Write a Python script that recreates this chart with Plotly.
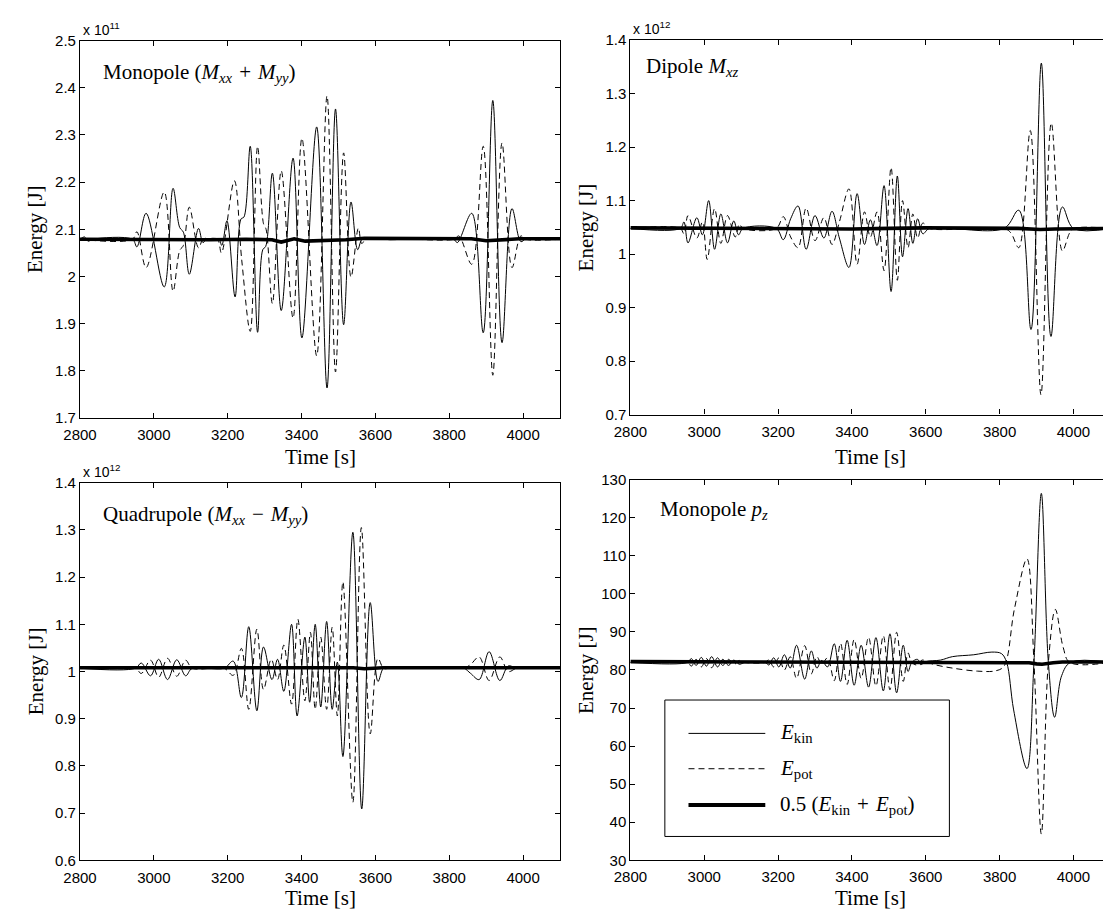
import plotly.graph_objects as go

# ---------------------------------------------------------------------------
# Energy time series (values read at extrema / crossings of each curve)
# ---------------------------------------------------------------------------
# Monopole (Mxx + Myy), energies in units of 1e11 J
mono_kin_t = [2800, 2812, 2822, 2834, 2942, 2954, 2979, 3028, 3052, 3070, 3080, 3096, 3121, 3133, 3143,
              3176, 3184, 3198, 3220, 3236, 3244, 3261, 3281, 3295, 3303, 3321, 3345, 3377, 3401, 3441,
              3469, 3492, 3514, 3534, 3552, 3565, 3600, 3640, 3700, 3750, 3812, 3822, 3861, 3892, 3918,
              3943, 3970, 3994, 4008, 4100]
mono_kin_v = [2.079, 2.084, 2.075, 2.079, 2.079, 2.063, 2.134, 1.978, 2.187, 2.104, 2.094, 2.005, 2.102, 2.072, 2.079,
              2.079, 2.066, 2.118, 1.957, 2.122, 2.126, 2.276, 1.882, 2.057, 2.064, 2.219, 1.928, 2.251, 1.870, 2.317,
              1.764, 2.355, 1.898, 2.158, 2.057, 2.080, 2.082, 2.078, 2.081, 2.079, 2.079, 2.072, 2.134, 1.881, 2.373,
              1.860, 2.144, 2.074, 2.080, 2.080]
mono_pot_t = [2800, 2942, 2954, 2979, 3028, 3052, 3070, 3080, 3096, 3121, 3135, 3145, 3172, 3183, 3218,
              3238, 3261, 3281, 3297, 3304, 3321, 3345, 3377, 3401, 3441, 3469, 3492, 3514, 3534, 3554,
              3563, 3575, 3812, 3826, 3861, 3892, 3918, 3943, 3970, 3994, 4008, 4100]
mono_pot_v = [2.079, 2.079, 2.095, 2.019, 2.179, 1.969, 2.055, 2.066, 2.147, 2.061, 2.083, 2.079, 2.079, 2.050, 2.203,
              2.035, 1.884, 2.276, 2.112, 2.100, 1.943, 2.224, 1.912, 2.293, 1.832, 2.383, 1.798, 2.262, 1.999, 2.103,
              2.070, 2.079, 2.079, 2.086, 2.026, 2.276, 1.791, 2.283, 2.019, 2.086, 2.079, 2.079]
mono_avg_t = [2800, 2950, 3050, 3150, 3250, 3320, 3345, 3380, 3410, 3450, 3520, 3570, 3700, 3860, 3900, 3940, 3990, 4100]
mono_avg_v = [2.079, 2.078, 2.077, 2.078, 2.079, 2.078, 2.073, 2.080, 2.075, 2.076, 2.078, 2.081, 2.080, 2.080,
              2.076, 2.077, 2.080, 2.080]

# Dipole Mxz, energies in units of 1e12 J
dip_kin_t = [2800, 2935, 2945, 2956, 2980, 2995, 3012, 3028, 3045, 3063, 3080, 3093, 3105, 3195, 3214,
             3234, 3254, 3276, 3300, 3324, 3346, 3366, 3392, 3414, 3434, 3450, 3468, 3487, 3506, 3523,
             3537, 3552, 3565, 3578, 3592, 3610, 3812, 3852, 3885, 3913, 3939, 3970, 4000, 4100]
dip_kin_v = [1.048, 1.048, 1.060, 1.021, 1.068, 1.036, 1.100, 1.009, 1.075, 1.021, 1.062, 1.036, 1.048, 1.048, 1.027,
             1.066, 1.090, 1.009, 1.072, 1.030, 1.080, 1.030, 0.975, 1.113, 1.018, 1.064, 1.016, 1.128, 0.930, 1.146,
             0.995, 1.085, 1.020, 1.066, 1.038, 1.048, 1.048, 1.082, 0.859, 1.357, 0.846, 1.088, 1.048, 1.048]
dip_pot_t = [2800, 2935, 2945, 2956, 2980, 2995, 3008, 3028, 3045, 3063, 3084, 3095, 3105, 3195, 3214,
             3234, 3254, 3276, 3300, 3324, 3346, 3366, 3392, 3414, 3434, 3450, 3468, 3487, 3506, 3523,
             3537, 3552, 3565, 3578, 3592, 3610, 3812, 3830, 3852, 3883, 3912, 3940, 3970, 3990, 4002, 4100]
dip_pot_v = [1.048, 1.048, 1.038, 1.072, 1.030, 1.060, 0.990, 1.085, 1.020, 1.072, 1.032, 1.056, 1.048, 1.048, 1.070,
             1.032, 1.012, 1.086, 1.025, 1.068, 1.018, 1.060, 1.122, 0.981, 1.079, 1.032, 1.079, 0.969, 1.162, 0.951,
             1.100, 1.012, 1.075, 1.030, 1.058, 1.048, 1.048, 1.040, 1.012, 1.231, 0.737, 1.245, 1.006, 1.040, 1.048, 1.048]
dip_avg_t = [2800, 3000, 3200, 3400, 3500, 3600, 3850, 3910, 3950, 4100]
dip_avg_v = [1.049, 1.048, 1.048, 1.047, 1.048, 1.049, 1.048, 1.046, 1.047, 1.048]

# Quadrupole (Mxx - Myy), energies in units of 1e12 J
quad_kin_t = [2800, 2950, 2966, 2991, 3013, 3037, 3062, 3086, 3104, 3190, 3215, 3237, 3257, 3279, 3297,
              3320, 3335, 3352, 3373, 3388, 3409, 3422, 3437, 3452, 3468, 3483, 3497, 3512, 3539, 3563,
              3586, 3607, 3622, 3640, 3820, 3840, 3858, 3881, 3908, 3937, 3960, 3982, 4000, 4100]
quad_kin_v = [1.007, 1.007, 1.018, 0.991, 1.026, 0.983, 1.025, 0.991, 1.007, 1.007, 1.022, 0.945, 1.095, 0.917, 1.052,
              0.983, 1.026, 0.958, 1.100, 0.906, 1.073, 0.935, 1.100, 0.925, 1.106, 0.920, 1.020, 0.820, 1.295, 0.709,
              1.146, 0.979, 1.007, 1.007, 1.007, 1.007, 0.996, 0.983, 1.042, 0.981, 1.012, 1.007, 1.007, 1.007]
quad_pot_t = [2800, 2950, 2966, 2991, 3013, 3037, 3062, 3086, 3104, 3190, 3215, 3237, 3257, 3279, 3297,
              3318, 3335, 3352, 3373, 3390, 3409, 3424, 3437, 3452, 3468, 3483, 3497, 3512, 3539, 3562,
              3586, 3607, 3622, 3640, 3820, 3840, 3858, 3881, 3908, 3937, 3960, 3982, 4000, 4100]
quad_pot_v = [1.007, 1.007, 0.996, 1.024, 0.988, 1.028, 0.990, 1.024, 1.007, 1.007, 0.992, 1.049, 0.920, 1.090, 0.962,
              1.026, 0.983, 1.056, 0.931, 1.111, 0.938, 1.083, 0.920, 1.073, 0.920, 1.094, 0.906, 1.190, 0.723, 1.305,
              0.868, 1.028, 1.007, 1.007, 1.007, 1.007, 1.015, 1.031, 0.981, 1.031, 1.000, 1.007, 1.007, 1.007]
quad_avg_t = [2800, 3200, 3400, 3540, 3570, 3620, 4100]
quad_avg_v = [1.008, 1.008, 1.007, 1.008, 1.006, 1.008, 1.008]

# Monopole pz, energies in J
pz_kin_t = [2800, 2955, 2965, 2978, 2992, 3006, 3020, 3036, 3050, 3066, 3080, 3095, 3110, 3165, 3175, 3188,
            3202, 3217, 3233, 3250, 3272, 3290, 3305, 3318, 3334, 3352, 3369, 3387, 3406, 3425, 3445, 3465,
            3485, 3503, 3521, 3539, 3552, 3562, 3578, 3586, 3600, 3640, 3672, 3730, 3779, 3805, 3819, 3838,
            3874, 3893, 3913, 3932, 3949, 3968, 3992, 4100]
pz_kin_v = [82.0, 82.0, 83.0, 81.2, 83.3, 81.0, 83.5, 80.8, 82.8, 81.2, 82.6, 81.5, 82.0, 82.0, 81.3, 83.2,
            80.8, 84.0, 80.5, 86.5, 77.6, 85.0, 80.5, 82.5, 80.8, 86.9, 77.0, 87.8, 76.0, 86.5, 75.5, 88.5,
            74.5, 89.5, 74.0, 86.5, 79.6, 82.0, 82.8, 81.4, 82.2, 82.6, 83.5, 84.0, 84.7, 84.3, 82.0, 69.5,
            54.1, 82.0, 126.4, 82.0, 67.6, 78.5, 82.0, 82.0]
pz_pot_t = [2800, 2955, 2965, 2978, 2992, 3006, 3020, 3036, 3050, 3066, 3080, 3095, 3110, 3165, 3175, 3188,
            3202, 3217, 3233, 3250, 3272, 3290, 3305, 3318, 3334, 3352, 3369, 3387, 3406, 3425, 3445, 3465,
            3485, 3503, 3521, 3539, 3552, 3562, 3578, 3590, 3620, 3672, 3740, 3790, 3812, 3840, 3874, 3893,
            3913, 3932, 3951, 3972, 3990, 4100]
pz_pot_v = [82.0, 82.0, 81.0, 82.8, 80.8, 83.0, 80.6, 83.2, 81.2, 82.8, 81.4, 82.5, 82.0, 82.0, 82.7, 80.8,
            83.2, 80.0, 83.5, 77.8, 86.4, 79.0, 83.5, 81.5, 83.2, 77.2, 87.0, 76.2, 88.0, 77.8, 88.6, 75.8,
            89.0, 74.8, 89.9, 77.0, 84.5, 82.0, 81.3, 82.6, 81.5, 80.5, 79.7, 79.8, 81.0, 96.0, 109.2, 82.0,
            36.9, 82.0, 95.9, 86.0, 82.0, 82.0]
pz_avg_t = [2800, 3500, 3800, 3880, 3900, 3915, 3945, 3970, 4100]
pz_avg_v = [82.2, 82.1, 82.1, 81.9, 81.6, 81.5, 81.9, 82.1, 82.1]

# Tick values and labels
time_ticks = [2800, 3000, 3200, 3400, 3600, 3800, 4000]
time_labels = ["2800", "3000", "3200", "3400", "3600", "3800", "4000"]
mono_ticks = [1.7, 1.8, 1.9, 2.0, 2.1, 2.2, 2.3, 2.4, 2.5]
mono_labels = ["1.7", "1.8", "1.9", "2", "2.1", "2.2", "2.3", "2.4", "2.5"]
dip_ticks = [0.7, 0.8, 0.9, 1.0, 1.1, 1.2, 1.3, 1.4]
dip_labels = ["0.7", "0.8", "0.9", "1", "1.1", "1.2", "1.3", "1.4"]
quad_ticks = [0.6, 0.7, 0.8, 0.9, 1.0, 1.1, 1.2, 1.3, 1.4]
quad_labels = ["0.6", "0.7", "0.8", "0.9", "1", "1.1", "1.2", "1.3", "1.4"]
pz_ticks = [30, 40, 50, 60, 70, 80, 90, 100, 110, 120, 130]
pz_labels = [str(v) for v in pz_ticks]

# ---------------------------------------------------------------------------
W, H = 1103, 922
SERIF = "Liberation Serif, Times New Roman, serif"
SANS = "Liberation Sans, Arial, Helvetica, sans-serif"
DASH = "6px,4px"
SP = "&#8196;"  # three-per-em space around binary operators


def fx(px):
    return px / W


def fy(py):
    return 1 - py / H


fig = go.Figure()

panels = [
    # (x axis id, y axis id, kin, pot, avg)
    ("x", "y", (mono_kin_t, mono_kin_v), (mono_pot_t, mono_pot_v), (mono_avg_t, mono_avg_v)),
    ("x2", "y2", (dip_kin_t, dip_kin_v), (dip_pot_t, dip_pot_v), (dip_avg_t, dip_avg_v)),
    ("x3", "y3", (quad_kin_t, quad_kin_v), (quad_pot_t, quad_pot_v), (quad_avg_t, quad_avg_v)),
    ("x4", "y4", (pz_kin_t, pz_kin_v), (pz_pot_t, pz_pot_v), (pz_avg_t, pz_avg_v)),
]

for xa, ya, kin, pot, avg in panels:
    fig.add_trace(go.Scatter(x=avg[0], y=avg[1], mode="lines", xaxis=xa, yaxis=ya,
                             line=dict(color="black", width=3.6), hoverinfo="skip"))
    fig.add_trace(go.Scatter(x=pot[0], y=pot[1], mode="lines", xaxis=xa, yaxis=ya,
                             line=dict(color="black", width=1, dash=DASH, shape="spline", smoothing=1.0),
                             hoverinfo="skip"))
    fig.add_trace(go.Scatter(x=kin[0], y=kin[1], mode="lines", xaxis=xa, yaxis=ya,
                             line=dict(color="black", width=1, shape="spline", smoothing=1.0),
                             hoverinfo="skip"))

axis_common = dict(showline=True, linecolor="black", linewidth=1.2, ticks="inside", ticklen=5,
                   tickwidth=1, tickcolor="black", showgrid=False, zeroline=False,
                   tickfont=dict(family=SANS, size=15, color="black"))

# Pixel boxes of the four panels
LEFT_X = (64, 551.5)
RIGHT_X = (623, 1103)
TL_Y = (32.1, 416.9)
TR_Y = (31.7, 413.2)
BL_Y = (482.6, 867.4)
BR_Y = (479.5, 867.3)

layout_axes = {}


def set_axes(idx, xpix, ypix, xrange, yticks, ylabels, yrange, full_box):
    xs = "xaxis" if idx == 1 else f"xaxis{idx}"
    ys = "yaxis" if idx == 1 else f"yaxis{idx}"
    xid = "x" if idx == 1 else f"x{idx}"
    yid = "y" if idx == 1 else f"y{idx}"
    layout_axes[xs] = dict(axis_common, domain=[fx(xpix[0]), fx(xpix[1])], anchor=yid, range=xrange,
                           tickvals=time_ticks, ticktext=time_labels, mirror="ticks",
                           ticklabelstandoff=3)
    layout_axes[ys] = dict(axis_common, domain=[fy(ypix[1]), fy(ypix[0])], anchor=xid, range=yrange,
                           tickvals=yticks, ticktext=ylabels, mirror="ticks" if full_box else False)


set_axes(1, LEFT_X, TL_Y, [2800, 4100], mono_ticks, mono_labels, [1.7, 2.5], True)
set_axes(2, RIGHT_X, TR_Y, [2800, 4080], dip_ticks, dip_labels, [0.7, 1.4], False)
set_axes(3, LEFT_X, BL_Y, [2800, 4100], quad_ticks, quad_labels, [0.6, 1.4], True)
set_axes(4, RIGHT_X, BR_Y, [2800, 4080], pz_ticks, pz_labels, [30, 130], False)

annotations = []


def text(x, y, s, size=21, family=SERIF, xanchor="left", yanchor="middle", angle=0):
    annotations.append(dict(x=fx(x), y=fy(y), xref="paper", yref="paper", text=s, showarrow=False,
                            xanchor=xanchor, yanchor=yanchor, textangle=angle,
                            font=dict(family=family, size=size, color="black")))


# panel titles
text(85, 65, f"Monopole (<i>M</i><sub><i>xx</i></sub>{SP}+{SP}<i>M</i><sub><i>yy</i></sub>)")
text(637, 59, "Dipole <i>M</i><sub><i>xz</i></sub>")
text(85, 515, f"Quadrupole (<i>M</i><sub><i>xx</i></sub>{SP}−{SP}<i>M</i><sub><i>yy</i></sub>)")
text(651, 510, "Monopole <i>p</i><sub><i>z</i></sub>")

# axis titles
for xpix, ypix in ((LEFT_X, TL_Y), (RIGHT_X, TR_Y), (LEFT_X, BL_Y), (RIGHT_X, BR_Y)):
    text(xpix[0] - 45, (ypix[0] + ypix[1]) / 2, "Energy [J]", xanchor="center", angle=-90)
text((LEFT_X[0] + LEFT_X[1]) / 2, 456, "Time [s]", xanchor="center")
text((623 + 1110.5) / 2, 456, "Time [s]", xanchor="center")
text((LEFT_X[0] + LEFT_X[1]) / 2, 906, "Time [s]", xanchor="center")
text((623 + 1110.5) / 2, 906, "Time [s]", xanchor="center")

# exponent labels
text(LEFT_X[0] + 1, TL_Y[0] - 1, "x 10<sup>11</sup>", size=14, family=SANS, yanchor="bottom")
text(RIGHT_X[0] + 1, TR_Y[0] - 1, "x 10<sup>12</sup>", size=14, family=SANS, yanchor="bottom")
text(LEFT_X[0] + 1, BL_Y[0] - 1, "x 10<sup>12</sup>", size=14, family=SANS, yanchor="bottom")

# legend box in the Monopole pz panel
shapes = [dict(type="rect", xref="paper", yref="paper", x0=fx(658), x1=fx(947), y0=fy(843), y1=fy(704),
               line=dict(color="black", width=1), fillcolor="white", layer="above")]
legend_rows = [
    (738, dict(color="black", width=1), "<i>E</i><sub>kin</sub>"),
    (774, dict(color="black", width=1, dash=DASH), "<i>E</i><sub>pot</sub>"),
    (811, dict(color="black", width=4), f"0.5 (<i>E</i><sub>kin</sub>{SP}+{SP}<i>E</i><sub>pot</sub>)"),
]
for ypos, lstyle, label in legend_rows:
    shapes.append(dict(type="line", xref="paper", yref="paper", x0=fx(682), x1=fx(760), y0=fy(ypos), y1=fy(ypos),
                       line=lstyle, layer="above"))
    text(773, ypos, label)

fig.update_layout(width=W, height=H, margin=dict(l=0, r=0, t=0, b=0), paper_bgcolor="white",
                  plot_bgcolor="white", showlegend=False, annotations=annotations, shapes=shapes,
                  **layout_axes)

fig.write_html("out.html")
